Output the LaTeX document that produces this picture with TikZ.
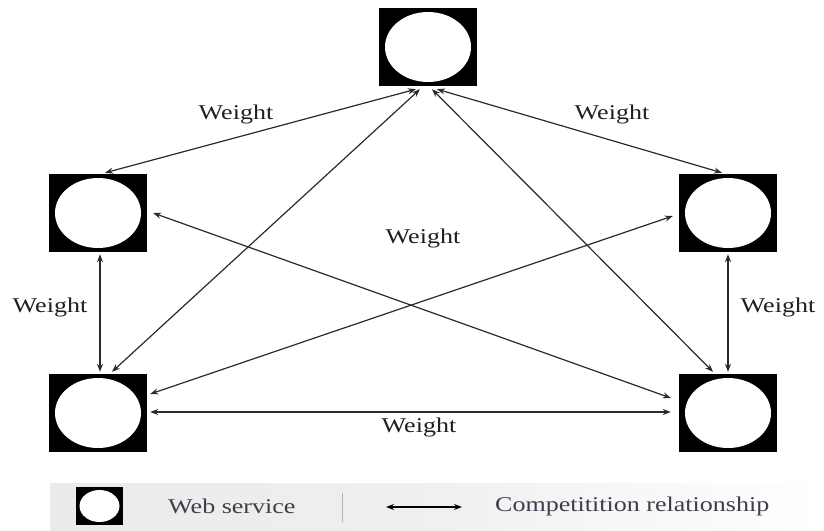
\documentclass[tikz,border=0pt]{standalone}
\usepackage{fontspec}
\setmainfont[FakeStretch=1.24]{Liberation Serif}
\usetikzlibrary{arrows.meta,calc}

\definecolor{edgecol}{HTML}{2A2A2A}
\definecolor{legtext}{HTML}{3A3F4A}

\tikzset{
  svc/.style={rectangle, fill=black, inner sep=0pt,
    minimum width=98pt, minimum height=78pt,
    path picture={\fill[white] (path picture bounding box.center)
      ellipse [x radius=43pt, y radius=35pt];}},
  svcsmall/.style={rectangle, fill=black, inner sep=0pt,
    minimum width=47pt, minimum height=38pt,
    path picture={\fill[white] (path picture bounding box.center)
      ellipse [x radius=20pt, y radius=16pt];}},
  rel/.style={draw=edgecol, line width=1.2pt,
    {Stealth[length=8pt,width=6pt]}-{Stealth[length=8pt,width=6pt]}},
  wlabel/.style={text=black!88, font=\fontsize{21}{25}\selectfont, inner sep=0pt},
  legtxt/.style={text=legtext, font=\fontsize{21}{25}\selectfont, inner sep=0pt, anchor=west}
}

\begin{document}
\begin{tikzpicture}[x=1pt,y=-1pt]
  \useasboundingbox (0,0) rectangle (824,530);

  % services
  \node[svc] (top) at (428,47) {};
  \node[svc] (lm) at (98,213) {};
  \node[svc] (rm) at (728,213) {};
  \node[svc] (lb) at (98,413) {};
  \node[svc] (rb) at (728,413) {};

  % competition relationships
  \draw[rel] ($(top.south)+(-12,3)$) -- ($(lm.north)+(7,-1)$);
  \draw[rel] ($(top.south)+(9,3)$) -- ($(rm.north)+(-6,-1)$);
  \draw[rel] ($(top.south)+(-8,3)$) -- ($(lb.north)+(14,-2)$);
  \draw[rel] ($(top.south)+(4,3)$) -- ($(rb.north)+(-15,-2)$);
  \draw[rel] ($(lm.east)+(6,0)$) -- ($(rb.west)+(-8,-15)$);
  \draw[rel] ($(rm.west)+(-6,3)$) -- ($(lb.east)+(3,-19)$);
  \draw[rel] ($(lm.south)+(2,2)$) -- ($(lb.north)+(2,-2)$);
  \draw[rel] ($(rm.south)+(0,2)$) -- ($(rb.north)+(0,-2)$);
  \draw[rel] ($(lb.east)+(3,-1)$) -- ($(rb.west)+(-8,-1)$);

  % weights
  \node[wlabel] (w1) at (236,114) {Weight};
  \node[wlabel] (w2) at (612,114) {Weight};
  \node[wlabel] (w3) at (423,238) {Weight};
  \node[wlabel] (w4) at (50,307) {Weight};
  \node[wlabel] (w5) at (778,307) {Weight};
  \node[wlabel] (w6) at (419,427) {Weight};

  % legend
  \shade[left color=black!8, right color=white, middle color=black!6]
    (50,483) rectangle (824,530);
  \node[svcsmall] (legsvc) at (99.5,506) {};
  \node[legtxt] (legsvctxt) at (168,506) {Web service};
  \draw[black!30, line width=1pt] (342,493) -- (342,522);
  \coordinate (la) at (386,507);
  \coordinate (lb2) at (462,507);
  \draw[draw=black, line width=1.2pt,
    {Stealth[length=8pt,width=6pt]}-{Stealth[length=8pt,width=6pt]}] (la) -- (lb2);
  \node[legtxt] (legreltxt) at (495,506) {Competitition relationship};
\end{tikzpicture}
\end{document}
